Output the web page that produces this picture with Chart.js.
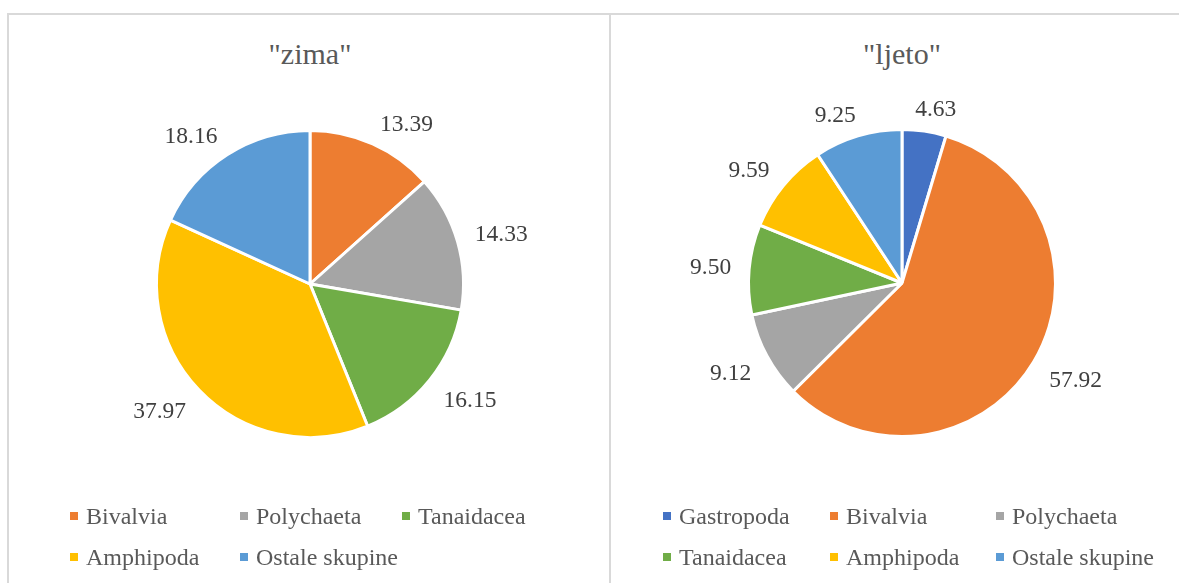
<!DOCTYPE html>
<html>
<head>
<meta charset="utf-8">
<script src="https://cdn.jsdelivr.net/npm/chart.js@4/dist/chart.umd.min.js"></script>
<style>
  html, body { margin:0; padding:0; background:#fff; }
  body { width:1179px; height:583px; position:relative; overflow:hidden; }
  .serif { font-family:'Liberation Serif', 'Times New Roman', serif; }
  .frame { position:absolute; border:2px solid #d9d9d9; box-sizing:border-box; }
  #f1 { left:7px; top:13px; width:604px; height:600px; }
  #f2 { left:609px; top:13px; width:600px; height:600px; }
  .cv { position:absolute; top:0; }
  #c1wrap { left:0; width:610px; height:583px; }
  #c2wrap { left:610px; width:569px; height:583px; }
  .title { position:absolute; top:37px; font-size:30px; line-height:34px; color:#595959;
           text-align:center; white-space:nowrap; }
  #t1 { left:0; width:620px; }
  #t2 { left:610px; width:584px; }
  .legend { position:absolute; left:0; top:0; font-size:24px; color:#595959; }
  .lrow { position:absolute; height:24px; line-height:24px; display:flex; white-space:nowrap; }
  .litem { display:flex; align-items:center; }
  .lbox { width:8px; height:8px; margin-right:8px; flex:none; }
</style>
</head>
<body>
<div class="frame" id="f1"></div>
<div class="frame" id="f2"></div>
<div class="title serif" id="t1"></div>
<div class="title serif" id="t2"></div>
<div class="cv" id="c1wrap"><canvas id="c1"></canvas></div>
<div class="cv" id="c2wrap"><canvas id="c2"></canvas></div>
<div class="legend serif" id="lg1"></div>
<div class="legend serif" id="lg2"></div>
<script>
// ---- data ----
const winterTitle = '"zima"';
const winterLabels = ["Bivalvia", "Polychaeta", "Tanaidacea", "Amphipoda", "Ostale skupine"];
const winterValues = [13.39, 14.33, 16.15, 37.97, 18.16];
const winterColors = ["#ED7D31", "#A5A5A5", "#70AD47", "#FFC000", "#5B9BD5"];

const summerTitle = '"ljeto"';
const summerLabels = ["Gastropoda", "Bivalvia", "Polychaeta", "Tanaidacea", "Amphipoda", "Ostale skupine"];
const summerValues = [4.63, 57.92, 9.12, 9.50, 9.59, 9.25];
const summerColors = ["#4472C4", "#ED7D31", "#A5A5A5", "#70AD47", "#FFC000", "#5B9BD5"];

// ---- outside-end value labels (box corner placed along the slice's mid angle) ----
const outsideLabels = {
  id: 'outsideLabels',
  afterDatasetsDraw(chart) {
    const ctx = chart.ctx;
    const meta = chart.getDatasetMeta(0);
    const data = chart.data.datasets[0].data;
    const clamp = v => Math.max(-1, Math.min(1, v));
    ctx.save();
    ctx.font = "23.5px 'Liberation Serif', 'Times New Roman', serif";
    ctx.fillStyle = '#404040';
    ctx.textAlign = 'center';
    ctx.textBaseline = 'middle';
    meta.data.forEach((arc, i) => {
      const p = arc.getProps(['x','y','startAngle','endAngle','outerRadius'], true);
      const mid = (p.startAngle + p.endAngle) / 2;
      const cx = Math.cos(mid), sy = Math.sin(mid);
      const txt = Number(data[i]).toFixed(2);
      const w = ctx.measureText(txt).width;
      const d = p.outerRadius + 18;
      const x = p.x + cx * d + clamp(cx * 3) * w / 2;
      const y = p.y + sy * d + clamp(sy * 3) * (sy < 0 ? 4 : 8.5) + 1;
      ctx.fillText(txt, x, y);
    });
    ctx.restore();
  }
};

function makePie(id, labels, values, colors, pad) {
  return new Chart(document.getElementById(id), {
    type: 'pie',
    data: { labels: labels, datasets: [{ data: values, backgroundColor: colors,
            borderColor: '#ffffff', borderWidth: 3, hoverOffset: 0, offset: 0 }] },
    options: {
      responsive: true, maintainAspectRatio: false, animation: false,
      layout: { padding: pad },
      plugins: { legend: { display: false }, title: { display: false }, tooltip: { enabled: false } },
      events: []
    },
    plugins: [outsideLabels]
  });
}

makePie('c1', winterLabels, winterValues, winterColors, { left: 155, right: 145, top: 129, bottom: 144 });
makePie('c2', summerLabels, summerValues, summerColors, { left: 137, right: 122, top: 128, bottom: 145 });

document.getElementById('t1').textContent = winterTitle;
document.getElementById('t2').textContent = summerTitle;

function buildLegend(id, labels, colors, left, colW, perRow) {
  const el = document.getElementById(id);
  const rowsTop = [504, 545];
  for (let r = 0; r * perRow < labels.length; r++) {
    const row = document.createElement('div');
    row.className = 'lrow';
    row.style.top = rowsTop[r] + 'px';
    row.style.left = left + 'px';
    for (let c = 0; c < perRow; c++) {
      const k = r * perRow + c;
      if (k >= labels.length) break;
      const it = document.createElement('div');
      it.className = 'litem';
      it.style.width = colW[c] + 'px';
      const b = document.createElement('span');
      b.className = 'lbox';
      b.style.background = colors[k];
      const t = document.createElement('span');
      t.textContent = labels[k];
      it.appendChild(b); it.appendChild(t);
      row.appendChild(it);
    }
    el.appendChild(row);
  }
}
buildLegend('lg1', winterLabels, winterColors, 70, [170, 162, 170], 3);
buildLegend('lg2', summerLabels, summerColors, 663, [167, 166, 180], 3);
</script>
</body>
</html>
